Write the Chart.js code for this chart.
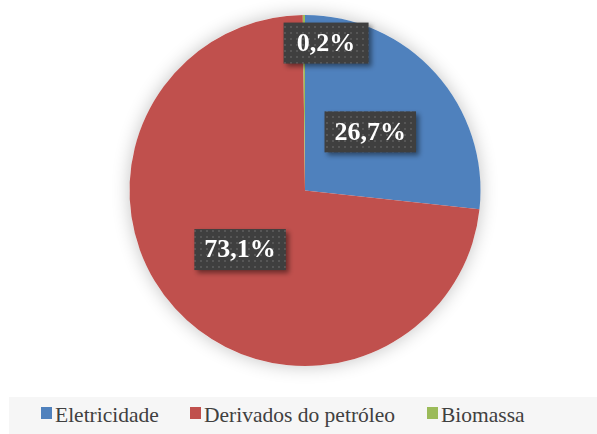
<!DOCTYPE html>
<html>
<head>
<meta charset="utf-8">
<script src="https://cdn.jsdelivr.net/npm/chart.js@4/dist/chart.umd.min.js"></script>
<style>
  html, body { margin: 0; padding: 0; background: #fff; }
  #wrap { position: relative; width: 597px; height: 434px; }
  #legend {
    position: absolute; left: 9px; top: 397px; width: 588px; height: 37px;
    background: #f6f6f6;
    font-family: "Liberation Serif", "Times New Roman", serif; font-size: 21.5px; color: #404040;
  }
  .item { position: absolute; top: 6px; white-space: nowrap; line-height: 24px; }
  .box { position: absolute; top: 10px; width: 11px; height: 12px; }
</style>
</head>
<body>
<div id="wrap">
  <canvas id="pie" width="597" height="434"></canvas>
  <div id="legend"></div>
</div>
<script>
const labels = ['Eletricidade', 'Derivados do petróleo', 'Biomassa'];
const shares = [26.7, 73.1, 0.2];
const colors = ['#4F81BD', '#C0504D', '#9BBB59'];

// legend, laid out like the original
const legendBoxX = [32, 181, 418];
const legendEl = document.getElementById('legend');
labels.forEach((name, i) => {
  const box = document.createElement('div');
  box.className = 'box';
  box.style.left = legendBoxX[i] + 'px';
  box.style.background = colors[i];
  legendEl.appendChild(box);
  const txt = document.createElement('div');
  txt.className = 'item';
  txt.style.left = (legendBoxX[i] + 14) + 'px';
  txt.textContent = name;
  legendEl.appendChild(txt);
});

// dotted dark fill for the value boxes
const patCanvas = document.createElement('canvas');
patCanvas.width = 6;
patCanvas.height = 6;
const pctx = patCanvas.getContext('2d');
pctx.fillStyle = '#3f3f3f';
pctx.fillRect(0, 0, 6, 6);
pctx.fillStyle = '#565656';
pctx.fillRect(2, 2, 2, 2);

const fmt = v => v.toFixed(1).replace('.', ',') + '%';

const pieShadow = {
  id: 'pieShadow',
  beforeDatasetsDraw(chart) {
    const arc = chart.getDatasetMeta(0).data[0];
    if (!arc) return;
    const ctx = chart.ctx;
    ctx.save();
    ctx.shadowColor = 'rgba(0,0,0,0.24)';
    ctx.shadowBlur = 18;
    ctx.fillStyle = '#ffffff';
    ctx.beginPath();
    ctx.arc(arc.x, arc.y, arc.outerRadius, 0, Math.PI * 2);
    ctx.fill();
    ctx.restore();
  }
};

const valueBoxes = {
  id: 'valueBoxes',
  afterDatasetsDraw(chart) {
    const ctx = chart.ctx;
    const meta = chart.getDatasetMeta(0);
    const pattern = ctx.createPattern(patCanvas, 'repeat');
    ctx.save();
    ctx.font = 'bold 26px "Liberation Serif", "Times New Roman", serif';
    meta.data.forEach((arc, i) => {
      const mid = (arc.startAngle + arc.endAngle) / 2;
      let r = arc.outerRadius * 0.5;
      let shift = 0;
      if (shares[i] < 2) { r = arc.outerRadius * 0.84; shift = 22; }
      const cx = arc.x + Math.cos(mid) * r + shift;
      const cy = arc.y + Math.sin(mid) * r;
      const text = fmt(shares[i]);
      const w = Math.max(ctx.measureText(text).width + 20, 85);
      const h = 41;
      ctx.save();
      ctx.shadowColor = 'rgba(0,0,0,0.45)';
      ctx.shadowBlur = 5;
      ctx.shadowOffsetX = 3;
      ctx.shadowOffsetY = 3;
      ctx.fillStyle = pattern;
      ctx.fillRect(cx - w / 2, cy - h / 2, w, h);
      ctx.restore();
      ctx.fillStyle = '#ffffff';
      ctx.textAlign = 'center';
      ctx.textBaseline = 'middle';
      ctx.fillText(text, cx, cy + 1);
    });
    ctx.restore();
  }
};

new Chart(document.getElementById('pie'), {
  type: 'pie',
  data: {
    labels: labels,
    datasets: [{
      data: shares,
      backgroundColor: colors,
      borderWidth: 0
    }]
  },
  options: {
    responsive: false,
    animation: false,
    layout: { padding: { top: 15, bottom: 68, left: 13, right: 0 } },
    plugins: {
      legend: { display: false },
      tooltip: { enabled: false }
    }
  },
  plugins: [pieShadow, valueBoxes]
});
</script>
</body>
</html>
